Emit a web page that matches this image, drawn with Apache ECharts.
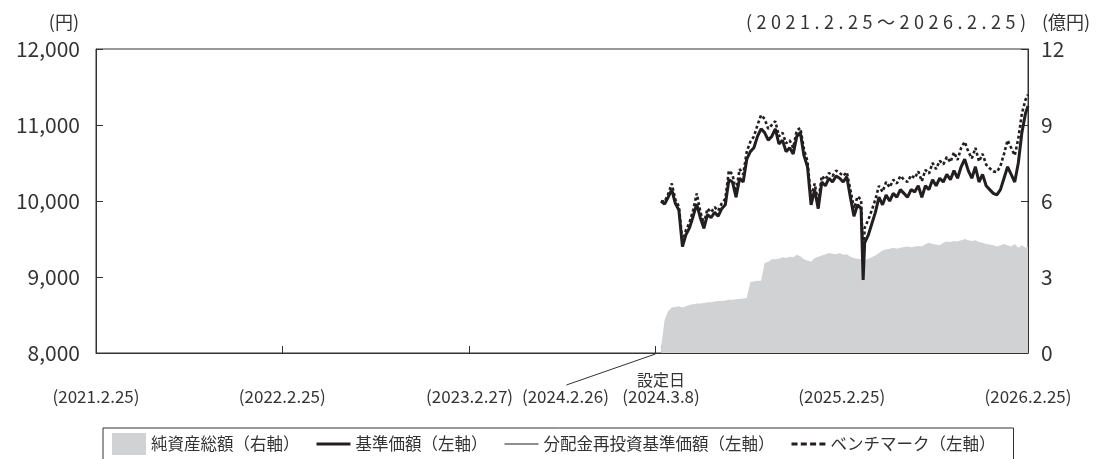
<!DOCTYPE html>
<html><head><meta charset="utf-8">
<script src="https://cdn.jsdelivr.net/npm/echarts@6/dist/echarts.min.js"></script>
<style>html,body{margin:0;padding:0;background:#fff}#c{width:1103px;height:459px}</style>
</head><body><div id="c"></div>
<script>
const dates = [
'2024-03-08','2024-03-15','2024-03-22','2024-03-29','2024-04-05','2024-04-12','2024-04-19','2024-04-26','2024-05-03','2024-05-10',
'2024-05-17','2024-05-24','2024-05-31','2024-06-07','2024-06-14','2024-06-21','2024-06-28','2024-07-05','2024-07-12','2024-07-19',
'2024-07-26','2024-08-02','2024-08-09','2024-08-16','2024-08-23','2024-08-30','2024-09-06','2024-09-13','2024-09-20','2024-09-27',
'2024-10-04','2024-10-11','2024-10-18','2024-10-25','2024-11-01','2024-11-08','2024-11-15','2024-11-22','2024-11-29','2024-12-06',
'2024-12-13','2024-12-20','2024-12-27','2025-01-03','2025-01-10','2025-01-17','2025-01-24','2025-01-31','2025-02-07','2025-02-14',
'2025-02-21','2025-02-28','2025-03-07','2025-03-14','2025-03-21','2025-03-28','2025-04-04','2025-04-08','2025-04-11','2025-04-18',
'2025-04-25','2025-05-02','2025-05-09','2025-05-16','2025-05-23','2025-05-30','2025-06-06','2025-06-13','2025-06-20','2025-06-27',
'2025-07-04','2025-07-11','2025-07-18','2025-07-25','2025-08-01','2025-08-08','2025-08-15','2025-08-22','2025-08-29','2025-09-05',
'2025-09-12','2025-09-19','2025-09-26','2025-10-03','2025-10-10','2025-10-17','2025-10-24','2025-10-31','2025-11-07','2025-11-14',
'2025-11-21','2025-11-28','2025-12-05','2025-12-12','2025-12-19','2025-12-26','2026-01-02','2026-01-09','2026-01-16','2026-01-23',
'2026-01-30','2026-02-06','2026-02-13','2026-02-20','2026-02-25'
];
// 純資産総額 (億円)
const netAssets = [
0.2,1.3,1.65,1.8,1.82,1.85,1.8,1.85,1.9,1.92,
1.95,1.95,1.97,2.0,2.0,2.03,2.05,2.05,2.07,2.1,
2.1,2.12,2.13,2.15,2.17,2.8,2.82,2.85,2.85,3.55,
3.6,3.7,3.7,3.72,3.78,3.75,3.8,3.78,3.88,3.82,
3.7,3.65,3.6,3.75,3.8,3.85,3.9,3.95,3.92,3.9,
3.95,3.88,3.9,3.8,3.75,3.72,3.7,3.65,3.68,3.72,
3.78,3.85,3.95,4.05,4.1,4.12,4.15,4.12,4.15,4.18,
4.2,4.17,4.2,4.22,4.2,4.3,4.35,4.3,4.28,4.25,
4.35,4.4,4.38,4.42,4.4,4.45,4.5,4.45,4.42,4.45,
4.38,4.35,4.3,4.28,4.25,4.2,4.25,4.3,4.25,4.2,
4.3,4.15,4.25,4.15,4.2
];
// 基準価額 (円)
const nav = [
10000,9960,10050,10150,9970,9880,9400,9560,9650,9800,
9960,9780,9640,9820,9780,9850,9800,9900,9950,10280,
10250,10050,10300,10250,10550,10650,10700,10850,10950,10900,
10800,10850,10950,10750,10800,10650,10700,10620,10850,10900,
10600,10450,9950,10150,9900,10250,10200,10300,10250,10330,
10300,10250,10320,10050,9800,9950,9900,8960,9450,9550,
9700,9850,10050,9950,10080,10000,10100,10050,10150,10100,
10050,10150,10120,10200,10050,10200,10150,10280,10200,10300,
10250,10350,10280,10400,10300,10450,10550,10400,10300,10450,
10250,10350,10200,10150,10100,10080,10150,10300,10450,10350,
10250,10500,10900,11150,11250
];
// 分配金再投資基準価額 (円)
const navReinvested = [
10000,9960,10050,10150,9970,9880,9400,9560,9650,9800,
9960,9780,9640,9820,9780,9850,9800,9900,9950,10280,
10250,10050,10300,10250,10550,10650,10700,10850,10950,10900,
10800,10850,10950,10750,10800,10650,10700,10620,10850,10900,
10600,10450,9950,10150,9900,10250,10200,10300,10250,10330,
10300,10250,10320,10050,9800,9950,9900,8960,9450,9550,
9700,9850,10050,9950,10080,10000,10100,10050,10150,10100,
10050,10150,10120,10200,10050,10200,10150,10280,10200,10300,
10250,10350,10280,10400,10300,10450,10550,10400,10300,10450,
10250,10350,10200,10150,10100,10080,10150,10300,10450,10350,
10250,10500,10900,11150,11250
];
// ベンチマーク (円)
const benchmark = [
10000,9990,10090,10230,10020,9930,9460,9620,9720,9880,
10100,9860,9700,9900,9850,9920,9870,9970,10030,10400,
10350,10120,10420,10350,10650,10780,10850,11000,11130,11080,
10950,11000,11050,10850,10900,10760,10800,10700,10930,10960,
10680,10520,10030,10230,9980,10330,10280,10370,10330,10400,
10370,10330,10380,10150,9900,10060,10020,9200,9650,9750,
9880,10020,10200,10120,10250,10180,10280,10230,10330,10280,
10250,10340,10300,10390,10260,10410,10360,10500,10420,10530,
10480,10580,10510,10640,10540,10700,10780,10650,10560,10700,
10520,10620,10480,10430,10390,10380,10460,10620,10800,10700,
10600,10820,11150,11330,11400
];
const xTickDates = ['2021-02-25','2022-02-25','2023-02-27','2024-02-26','2024-03-08','2025-02-25','2026-02-25'];
const xTickLabels = ['(2021.2.25)','(2022.2.25)','(2023.2.27)','(2024.2.26)','(2024.3.8)','(2025.2.25)','(2026.2.25)'];
const shiftedLabelDate = '2024-02-26';
const launchDate = '2024-03-08';
const launchLabel = '設定日';
const periodLabel = '(2021.2.25～2026.2.25)';
const leftUnit = '(円)';
const rightUnit = '(億円)';
const seriesNames = ['純資産総額（右軸）','基準価額（左軸）','分配金再投資基準価額（左軸）','ベンチマーク（左軸）'];

const FONT = '"Noto Sans CJK JP", "Noto Sans", sans-serif';
const TXT = '#333';
const INK = '#231f20';
function ts(s){const p=s.split('-').map(Number);return Date.UTC(p[0],p[1]-1,p[2]);}
function pairs(vals){return dates.map((d,i)=>[ts(d),vals[i]]);}
const labelMap = {};
xTickDates.forEach((d,i)=>{labelMap[ts(d)] = xTickLabels[i];});
const spaced = periodLabel.split('').join('\u2005');

const BOX = 'M0,0L0.01,0L0.01,0.01Z M33.99,22L34,22L34,21.99Z ';
const iconThick = 'path://' + BOX + 'M0,9.5L34,9.5L34,12.5L0,12.5Z';
const iconThin = 'path://' + BOX + 'M0,10.4L34,10.4L34,11.6L0,11.6Z';
const iconDash = 'path://' + BOX + 'M0,9.5L6,9.5L6,12.5L0,12.5Z M9.3,9.5L15.3,9.5L15.3,12.5L9.3,12.5Z M18.6,9.5L24.6,9.5L24.6,12.5L18.6,12.5Z M27.9,9.5L33.9,9.5L33.9,12.5L27.9,12.5Z';

const chart = echarts.init(document.getElementById('c'), null, {renderer:'canvas'});
const option = {
  animation:false,
  backgroundColor:'#fff',
  grid:{left:96,right:75,top:49,bottom:106,show:true,borderColor:'#333',borderWidth:1,backgroundColor:'transparent'},
  xAxis:{
    type:'value', min:ts(xTickDates[0]), max:ts(xTickDates[xTickDates.length-1]),
    axisLine:{show:true,lineStyle:{color:'#333',width:1}},
    axisTick:{show:true,inside:true,length:7,lineStyle:{color:'#333'},customValues:xTickDates.map(ts)},
    axisLabel:{show:true,margin:35,fontSize:17,color:TXT,fontFamily:FONT,
      customValues:xTickDates.filter(d=>d!==shiftedLabelDate).map(ts),
      formatter:v=>labelMap[v]||''},
    splitLine:{show:false}
  },
  yAxis:[
    {type:'value',min:8000,max:12000,interval:1000,position:'left',
     axisLine:{show:true,lineStyle:{color:'#333'}},
     axisTick:{show:true,inside:true,length:7,lineStyle:{color:'#333'}},
     axisLabel:{margin:16,fontSize:21,color:TXT,fontFamily:FONT,formatter:v=>v.toLocaleString('en-US')},
     splitLine:{show:false}},
    {type:'value',min:0,max:12,interval:3,position:'right',
     axisLine:{show:true,lineStyle:{color:'#333'}},
     axisTick:{show:true,inside:true,length:7,lineStyle:{color:'#333'}},
     axisLabel:{margin:13,fontSize:21,color:TXT,fontFamily:FONT},
     splitLine:{show:false}}
  ],
  legend:{
    left:103, top:428, orient:'horizontal',
    itemWidth:34, itemHeight:22, itemGap:17,
    padding:[5,18,8,9], borderColor:'#333', borderWidth:1,
    textStyle:{fontSize:16.5,color:TXT,fontFamily:FONT},
    data:[{name:seriesNames[0],icon:'rect'},{name:seriesNames[1],icon:iconThick},
          {name:seriesNames[2],icon:iconThin},{name:seriesNames[3],icon:iconDash}]
  },
  series:[
    {name:seriesNames[0],type:'line',yAxisIndex:1,data:pairs(netAssets),symbol:'none',
     lineStyle:{width:0,color:'#d1d2d4'},itemStyle:{color:'#d1d2d4'},
     areaStyle:{color:'#d1d2d4',opacity:1},z:1},
    {name:seriesNames[2],type:'line',yAxisIndex:0,data:pairs(navReinvested),symbol:'none',
     lineStyle:{width:1,color:INK},itemStyle:{color:INK},z:3},
    {name:seriesNames[3],type:'line',yAxisIndex:0,data:pairs(benchmark),symbol:'none',
     lineStyle:{width:2.6,color:INK,type:[3,2.5]},itemStyle:{color:INK},z:3},
    {name:seriesNames[1],type:'line',yAxisIndex:0,data:pairs(nav),symbol:'none',
     lineStyle:{width:3,color:INK},itemStyle:{color:INK},z:4}
  ],
  graphic:[
    {type:'text',id:'lu',x:79,y:22,style:{text:leftUnit,fill:TXT,font:'18px '+FONT,textAlign:'right',textVerticalAlign:'middle'}},
    {type:'text',id:'ru',x:1042,y:22,style:{text:rightUnit,fill:TXT,font:'18px '+FONT,textAlign:'left',textVerticalAlign:'middle'}},
    {type:'text',id:'pl',x:1026,y:22,style:{text:spaced,fill:TXT,font:'18px '+FONT,textAlign:'right',textVerticalAlign:'middle'}}
  ]
};
chart.setOption(option);
const pShift = chart.convertToPixel({xAxisIndex:0}, ts(shiftedLabelDate));
const pLaunch = chart.convertToPixel({xAxisIndex:0}, ts(launchDate));
const yBottom = chart.convertToPixel({yAxisIndex:0}, 8000);
chart.setOption({graphic:[
  {type:'text',id:'sl',x:pShift-90,y:yBottom+44,style:{text:xTickLabels[xTickDates.indexOf(shiftedLabelDate)],fill:TXT,font:'17px '+FONT,textAlign:'center',textVerticalAlign:'middle'}},
  {type:'line',id:'ll',shape:{x1:pShift-89,y1:yBottom+32,x2:pShift,y2:yBottom+1},style:{stroke:'#333',lineWidth:1}},
  {type:'text',id:'ld',x:pLaunch,y:yBottom+27,style:{text:launchLabel,fill:TXT,font:'16px '+FONT,textAlign:'center',textVerticalAlign:'middle'}}
]});
</script></body></html>
